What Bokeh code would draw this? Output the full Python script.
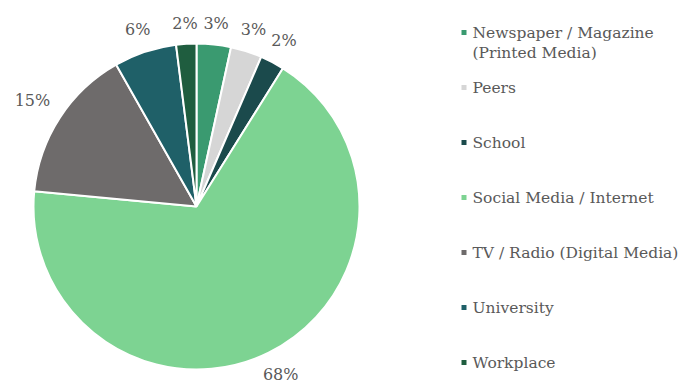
import math
from bokeh.plotting import figure
from bokeh.models import Range1d, ColumnDataSource
from bokeh.core.properties import value
from bokeh.embed import file_html
from bokeh.resources import INLINE

# Sources of information, in pie order (clockwise from 12 o'clock)
categories = [
    "Newspaper / Magazine\n(Printed Media)",
    "Peers",
    "School",
    "Social Media / Internet",
    "TV / Radio (Digital Media)",
    "University",
    "Workplace",
]
shares = [3.4, 3.1, 2.4, 67.6, 15.3, 6.2, 2.0]
colors = ["#3a9a70", "#d6d6d6", "#1b4a4c", "#7dd392", "#6e6b6b", "#1f6068", "#1f5d3f"]

W, H = 685, 383
CX, CY, R = 196, 177, 163
FONT = "DejaVu Serif"
TEXT_COLOR = "#595959"

p = figure(width=W, height=H, output_backend="svg", toolbar_location=None,
           x_range=Range1d(0, W), y_range=Range1d(0, H), min_border=0)
p.axis.visible = False
p.grid.visible = False
p.outline_line_color = None
p.background_fill_color = "white"
p.border_fill_color = "white"

total = sum(shares)
starts, ends, mids = [], [], []
cum = 0.0
for v in shares:
    a0 = math.pi / 2 - 2 * math.pi * cum / total
    cum += v
    a1 = math.pi / 2 - 2 * math.pi * cum / total
    starts.append(a0)
    ends.append(a1)
    mids.append((a0 + a1) / 2)

src = ColumnDataSource(dict(start=starts, end=ends, color=colors))
p.wedge(x=CX, y=CY, radius=R, start_angle="start", end_angle="end",
        direction="clock", fill_color="color", line_color="white",
        line_width=2, source=src)

# Percentage labels placed outside each slice: the label box sits a small
# gap away from the rim along the slice's middle direction.
labels = [f"{round(v)}%" for v in shares]
GAP, BOX_H = 14, 11
lx, ly = [], []
for a, t in zip(mids, labels):
    ux, uy = math.cos(a), math.sin(a)
    box_w = 11 * (len(t) - 1) + 15
    d = R + GAP + abs(ux) * box_w / 2 + abs(uy) * BOX_H / 2
    lx.append(CX + d * ux)
    ly.append(max(CY + d * uy, 9))
p.text(x=lx, y=ly, text=labels, text_font=value(FONT), text_font_size="16px",
       text_color=TEXT_COLOR, text_align="center", text_baseline="middle")

# Legend on the right
LEG_X, LEG_TOP, LEG_STEP, LINE_H = 463.5, 32, 55, 20
mx, my, tx, ty, tt = [], [], [], [], []
for i, name in enumerate(categories):
    y = H - (LEG_TOP + LEG_STEP * i)
    mx.append(LEG_X)
    my.append(y)
    for j, line in enumerate(name.split("\n")):
        tx.append(LEG_X + 8.5)
        ty.append(y - LINE_H * j)
        tt.append(line)
p.rect(x=mx, y=my, width=5, height=5, fill_color=colors, line_color=None)
p.text(x=tx, y=ty, text=tt, text_font=value(FONT), text_font_size="15.5px",
       text_color=TEXT_COLOR, text_align="left", text_baseline="middle")

open("out.html", "w").write(file_html(p, INLINE))
